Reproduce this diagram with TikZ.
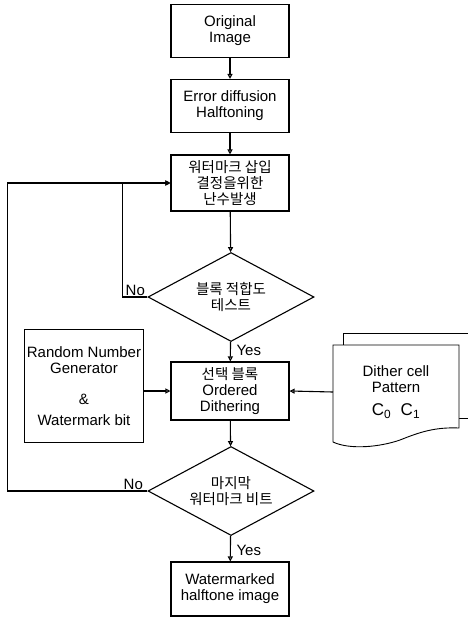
\documentclass[tikz,border=0pt]{standalone}
\usepackage{fontspec}
\setmainfont{Liberation Sans}
\newfontfamily\kr{Noto Sans CJK KR}
\usetikzlibrary{shapes.geometric,arrows.meta}

\begin{document}
\begin{tikzpicture}[x=1pt,y=-1pt,line width=1.1pt,
    box/.style={draw,minimum width=118pt,minimum height=53pt,inner sep=1pt,align=center,font=\fontsize{15}{16}\selectfont},
    krbox/.style={box,font=\kr\fontsize{14.5}{16}\selectfont},
    decision/.style={draw,diamond,aspect=1.87,minimum width=166pt,minimum height=89pt,inner sep=0pt,align=center,font=\kr\fontsize{14.5}{16.5}\selectfont},
    flow/.style={-{Triangle[open,length=5pt,width=5pt]}},
    lbl/.style={inner sep=1pt,font=\fontsize{15}{16}\selectfont}]
        \useasboundingbox (0,0) rectangle (468,618);

        % main column
        \node[box] (orig) at (230,31) {Original\\Image};
        \node[box] (halftone) at (230,106) {Error diffusion\\Halftoning};
        \node[krbox,minimum height=56pt] (randgen) at (230,183) {워터마크 삽입\\결정을위한\\난수발생};
        \node[decision] (test) at (231,297) {블록 적합도\\테스트};
        \node[box,minimum height=58pt] (dither) at (230,391) {{\kr\fontsize{14.5}{16}\selectfont 선택 블록}\\Ordered\\Dithering};
        \node[decision] (last) at (231,491) {마지막\\워터마크 비트};
        \node[box,minimum height=54pt] (output) at (230,589) {Watermarked\\halftone image};

        % side inputs
        \node[box,minimum width=119pt,minimum height=113pt,line width=0.9pt] (rng) at (84,386) {Random Number\\Generator\\[15pt]\&\\[5pt]Watermark bit};

        \draw[line width=0.9pt] (343,345) -- (343,333) -- (470,333);
        \draw[line width=0.9pt] (459,418) -- (470,418);
        \draw[line width=0.9pt,fill=white] (333,345) -- (459,345) -- (459,428)
          .. controls (435,427) and (420,432) .. (400,440)
          .. controls (380,447) and (350,450) .. (333,442) -- cycle;
        \node[align=center,inner sep=0pt,font=\fontsize{15}{16}\selectfont] (pattern) at (396,392)
          {Dither cell\\Pattern\\[7pt]{\fontsize{17}{17}\selectfont C\textsubscript{0}\ \ C\textsubscript{1}}};
        \coordinate (patternin) at (333,392);

        % connectors
        \draw[flow] (orig) -- (halftone);
        \draw[flow] (halftone) -- (randgen);
        \draw[flow] (randgen) -- (test);
        \draw[flow] (test) -- (dither);
        \draw[flow] (dither) -- (last);
        \draw[flow] (last) -- (output);
        \draw[flow] (rng.east |- dither.west) -- (dither.west);
        \draw[flow] (patternin) -- (dither.east);
        \draw[flow] (test.west) -- ++(-25,0) |- (randgen.west);
        \draw[flow] (last.west) -- ++(-140,0) |- (randgen.west);

        \node[lbl,anchor=south east] (no1) at ([xshift=-1pt]test.west) {No};
        \node[lbl,anchor=south east] (no2) at ([xshift=-3pt]last.west) {No};
        \node[lbl,anchor=north west] (yes1) at ([xshift=4pt,yshift=-2pt]test.south) {Yes};
        \node[lbl,anchor=north west] (yes2) at ([xshift=4pt,yshift=-8pt]last.south) {Yes};
      \end{tikzpicture}
\end{document}
